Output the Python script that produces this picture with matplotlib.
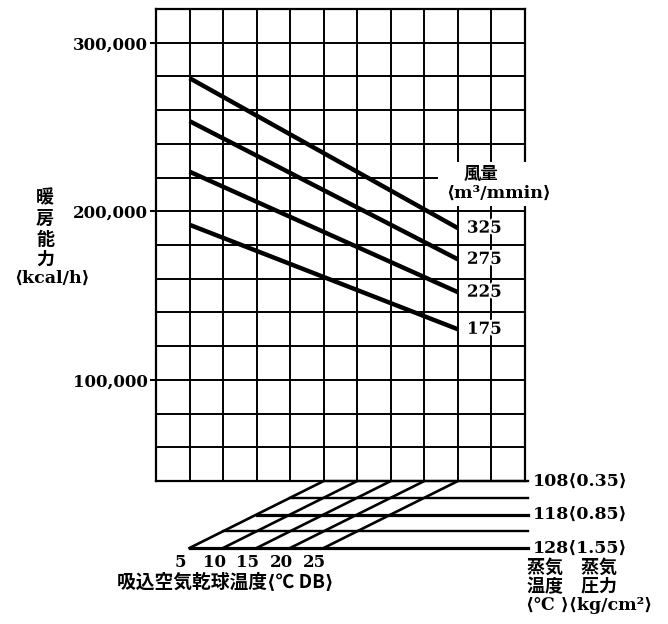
import numpy as np
import matplotlib
matplotlib.use('Agg')
import matplotlib.pyplot as plt
import matplotlib.patheffects as pe
from matplotlib.patches import Rectangle

# 風量ごとの暖房能力 (x=1 と x=9 の両端, kcal/h)
flow = [325, 275, 225, 175]
cap_start = [279000, 253500, 223500, 192000]
cap_end = [190000, 171500, 152000, 130000]
x_ends = [1, 9]

# 下の換算図
air_temp = [5, 10, 15, 20, 25]
steam_temp = [108, 113, 118, 123, 128]
steam_label = {108: '0.35', 118: '0.85', 128: '1.55'}

ytick_vals = [100000, 200000, 300000]
ytick_lbls = ['100,000', '200,000', '300,000']

SERIF = ['DejaVu Serif', 'DejaVu Sans', 'Noto Sans CJK JP']
JP = ['Noto Sans CJK JP', 'DejaVu Serif', 'DejaVu Sans']
L, R = '\u27e8', '\u27e9'

fig = plt.figure(figsize=(6.68, 6.24), dpi=100, facecolor='white')
W, H = 668, 624

def px(x0, y0, x1, y1):
    return [x0 / W, 1 - y1 / H, (x1 - x0) / W, (y1 - y0) / H]

ax = fig.add_axes(px(156, 9, 525, 481))
ax.set_xlim(0, 11)
ax.set_ylim(40000, 320000)
ax.set_xticks(range(12))
ax.set_xticklabels([])
ax.set_yticks(range(40000, 320001, 20000), minor=True)
ax.set_yticks(ytick_vals)
ax.set_yticklabels(ytick_lbls, family=SERIF, fontsize=12, fontweight='bold')
ax.tick_params(axis='x', length=0)
ax.tick_params(axis='y', which='major', length=4, width=1.5, pad=2)
ax.tick_params(axis='y', which='minor', length=0)
ax.grid(True, which='both', color='black', lw=1.4)
for s in ax.spines.values():
    s.set_linewidth(1.6)

for f, a, b in zip(flow, cap_start, cap_end):
    ax.plot(x_ends, [a, b], color='black', lw=3.2, solid_capstyle='butt', zorder=3)
    ax.text(x_ends[1] + 0.27, b, str(f), ha='left', va='center', family=SERIF,
            fontsize=12, fontweight='bold', zorder=5,
            path_effects=[pe.withStroke(linewidth=3, foreground='white')])

# 風量ラベルの白抜き部分
ax.add_patch(Rectangle((8.4, 203000), 2.8, 26500, facecolor='white',
                       edgecolor='none', zorder=2.6, clip_on=False))
ax.text(9.69, 222000, '風量', ha='center', va='center', family=JP,
        fontsize=12.5, fontweight='bold', zorder=5)
ax.text(10.2, 210800, f'{L}m³/mmin{R}', ha='center', va='center', family=SERIF,
        fontsize=12.5, fontweight='bold', zorder=5, clip_on=False)

fig.text(45 / W, 1 - 229 / H, '暖\n房\n能\n力', ha='center', va='center',
         family=JP, fontsize=13, fontweight='bold', linespacing=1.1)
fig.text(52 / W, 1 - 278 / H, f'{L}kcal/h{R}', ha='center', va='center',
         family=SERIF, fontsize=12.5, fontweight='bold')

# 換算図
nx = fig.add_axes(px(156, 481, 525, 548))
nx.set_xlim(0, 11)
nx.set_ylim(128, 108)
nx.axis('off')
for t in air_temp:
    xs = [(t + 128 - ts) / 5 for ts in (128, 108)]
    nx.plot(xs, [128, 108], color='black', lw=1.9, clip_on=False)
    nx.text(t / 5 - 0.27, 132.3, str(t), ha='center', va='center',
            family=SERIF, fontsize=12, fontweight='bold')
for ts in steam_temp:
    lw = 2.3 if ts in (118, 128) else 1.7
    nx.plot([(5 + 128 - ts) / 5, 11.1], [ts, ts], color='black', lw=lw,
            clip_on=False)
    if ts in steam_label:
        nx.text(11.24, ts, f'{ts}{L}{steam_label[ts]}{R}', ha='left',
                va='center', family=SERIF, fontsize=12.5, fontweight='bold')

fig.text(225 / W, 1 - 582 / H, f'吸込空気乾球温度{L}℃ DB{R}', ha='center',
         va='center', family=JP, fontsize=13.5, fontweight='bold')
fig.text(527 / W, 1 - 567 / H, '蒸気　蒸気', ha='left', va='center',
         family=JP, fontsize=13, fontweight='bold')
fig.text(527 / W, 1 - 587 / H, '温度　圧力', ha='left', va='center',
         family=JP, fontsize=13, fontweight='bold')
fig.text(526 / W, 1 - 605 / H, f'{L}℃ {R}{L}kg/cm²{R}', ha='left', va='center',
         family=SERIF, fontsize=12.5, fontweight='bold')

fig.savefig('out.png', dpi=100, facecolor='white')
